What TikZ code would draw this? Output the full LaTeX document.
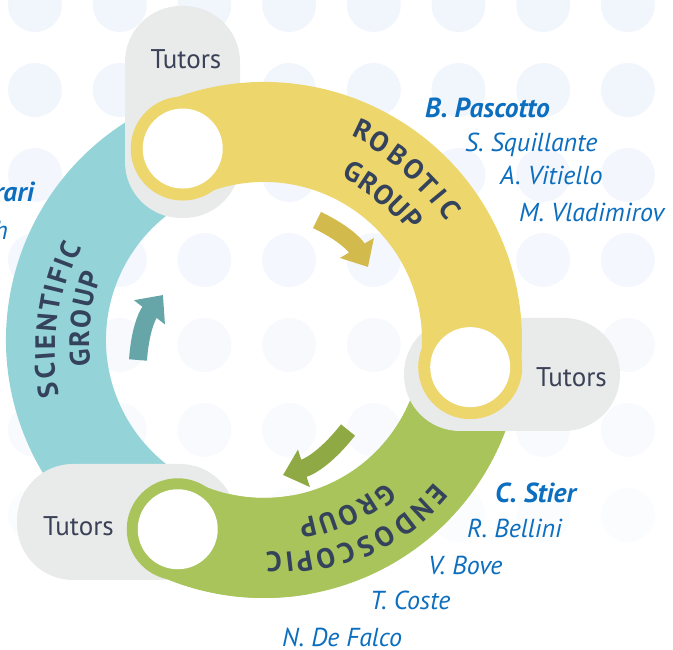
\documentclass[tikz,border=0pt]{standalone}
\usepackage{fontspec}
\setmainfont{PT Sans}
\usetikzlibrary{arrows.meta,calc}

\definecolor{bandteal}{RGB}{148,212,216}
\definecolor{bandyellow}{RGB}{237,214,108}
\definecolor{bandgreen}{RGB}{168,196,90}
\definecolor{pillgray}{RGB}{233,235,234}
\definecolor{tutortext}{RGB}{59,66,87}
\definecolor{labeltext}{RGB}{52,66,92}
\definecolor{nameblue}{RGB}{12,110,190}
\definecolor{arrowyellow}{RGB}{211,186,76}
\definecolor{arrowgreen}{RGB}{143,170,68}
\definecolor{arrowteal}{RGB}{102,166,168}
\definecolor{dotblue}{RGB}{241,245,252}

\tikzset{
  band/.style={line width=100pt},
  pill/.style={fill=pillgray, rounded corners=56pt},
  hole/.style={fill=white},
  tutors/.style={text=tutortext, font=\fontsize{27}{32}\selectfont},
  member/.style={anchor=base west, inner sep=0pt, text=nameblue, font=\fontsize{26}{30}\selectfont\itshape},
  leader/.style={member, font=\fontsize{27.5}{32}\selectfont\bfseries\itshape},
  grpletter/.style={inner sep=0pt, text=labeltext, font=\fontsize{28}{32}\selectfont\bfseries},
  cyclearrow/.style={line width=18pt, -{Triangle[length=22pt,width=38pt]}},
}

\begin{document}
\begin{tikzpicture}[x=1pt,y=1pt]
\useasboundingbox (0,0) rectangle (673,650);

% dots in the background
\foreach \row/\shade in {0/100,1/100,2/90,3/80,4/60,5/45,6/30}
  \foreach \col in {0,...,7}
    \fill[dotblue!\shade!white] ({35+84.7*\col},{645-85*\row}) circle (27);

\coordinate (ctr) at (264,310);
\coordinate (hTop) at ([shift={(113:208)}]ctr);
\coordinate (hRight) at ([shift={(-7.5:208)}]ctr);
\coordinate (hLeft) at ([shift={(245.5:208)}]ctr);

% scientific and endoscopic bands under the tutors
\draw[band, bandteal] (hTop) arc (113:245.5:208);
\draw[band, bandgreen] (hRight) arc (-7.5:-114.5:208);

% tutors
\fill[pill] (125,432) rectangle (240,644);
\fill[pill] (404,219) rectangle (620,332);
\fill[pill] (17,70) rectangle (236,186);

% robotic band over the tutors
\draw[band, bandyellow] (hTop) arc (113:-7.5:208);
\fill[bandyellow] (hTop) circle (52);
\fill[bandyellow] (hRight) circle (52);

% end of the endoscopic band
\draw[band, bandgreen] ([shift={(-80:208)}]ctr) arc (-80:-114.5:208);
\fill[bandgreen] (hLeft) circle (51);

\fill[hole] (hTop) circle (40);
\fill[hole] (hRight) circle (40);
\fill[hole] (hLeft) circle (40);

\node[tutors] (tTop) at (186,591) {Tutors};
\node[tutors] (tRight) at (571.5,272.5) {Tutors};
\node[tutors] (tLeft) at (78.5,124) {Tutors};

% group labels, letter by letter
\foreach \ch/\a/\r in {R/64.7/232,O/59.7/229.7,B/54.0/228.6,O/48.6/227,T/43.7/225.5,I/39.5/225.8,C/35.1/227.5}
  \node[grpletter, rotate=\a-90] at ([shift={(\a:\r)}]ctr) {\ch};
\foreach \ch/\a/\r in {G/62/190.5,R/56.3/188.5,O/50.5/188,U/44.8/189,P/39.3/191}
  \node[grpletter, rotate=\a-90] at ([shift={(\a:\r)}]ctr) {\ch};
\foreach \ch/\a/\r in {S/193.2/221.3,C/188.2/220.3,I/184.2/219.6,E/180.5/218.8,N/175.3/217.8,T/170.1/216.8,I/166.3/216.1,F/162.7/215.4,I/159.1/214.7,C/155.1/213.9}
  \node[grpletter, rotate=\a-90] at ([shift={(\a:\r)}]ctr) {\ch};
\foreach \ch/\a/\r in {G/185.6/184.9,R/179.6/184.7,O/173.4/184.5,U/166.9/184.2,P/161.0/184}
  \node[grpletter, rotate=\a-90] at ([shift={(\a:\r)}]ctr) {\ch};
\foreach \ch/\a/\r in {E/-41.9/232,N/-47.0/232,D/-52.6/232,O/-58.4/231,S/-63.7/230,C/-68.7/228.5,O/-74.2/227,P/-79.6/225,I/-83.4/223.5,C/-87.4/222}
  \node[grpletter, rotate=\a-90] at ([shift={(\a:\r)}]ctr) {\ch};
\foreach \ch/\a/\r in {G/-51.9/197,R/-57.9/195.8,O/-64.2/194.5,U/-70.7/193.2,P/-76.7/192}
  \node[grpletter, rotate=\a-90] at ([shift={(\a:\r)}]ctr) {\ch};

% arrows inside the ring
\coordinate (yTail) at (317,430);
\coordinate (yTip) at (368,383);
\coordinate (gTail) at (348,220);
\coordinate (gTip) at (283,175);
\coordinate (cTail) at (138,290);
\coordinate (cTip) at (163,355);
\draw[cyclearrow, arrowyellow] (yTail) to[bend left=17] (yTip);
\draw[cyclearrow, arrowgreen] (gTail) to[bend left=17] (gTip);
\draw[cyclearrow, arrowteal] (cTail) to[bend left=17] (cTip);

% names
\node[leader] (pascotto) at (425,532) {B. Pascotto};
\node[member] (squillante) at (465,498) {S. Squillante};
\node[member] (vitiello) at (500,465) {A. Vitiello};
\node[member] (vladimirov) at (519,428) {M. Vladimirov};

\node[leader] (stier) at (495,147) {C. Stier};
\node[member] (bellini) at (467,112) {R. Bellini};
\node[member] (bove) at (428,75) {V. Bove};
\node[member] (coste) at (370,40) {T. Coste};
\node[member] (defalco) at (282,3) {N. De Falco};

\node[leader, anchor=base east] (rari) at (34,448) {rari};
\node[member, anchor=base east] (hcut) at (8,410) {h};
\end{tikzpicture}
\end{document}
